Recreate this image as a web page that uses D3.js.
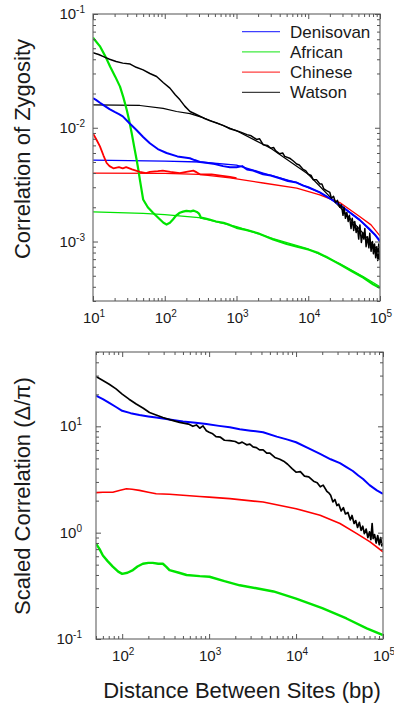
<!DOCTYPE html>
<html><head><meta charset="utf-8">
<script src="https://cdn.jsdelivr.net/npm/d3@7"></script>
<style>
body{margin:0;background:#fff}
svg{display:block}
text{font-family:"Liberation Sans",Arial,sans-serif;fill:#1a1a1a}
</style>
</head><body>
<svg id="chart" width="394" height="705"></svg>
<script>
// ---------- DATA ----------
const seriesNames = ["Denisovan", "African", "Chinese", "Watson"];
const seriesColors = ["#0000ff", "#00e400", "#ff0000", "#000000"];

const topXExponents = ["1", "2", "3", "4", "5"];
const topYExponents = ["-3", "-2", "-1"];
const bottomXExponents = ["2", "3", "4", "5"];
const bottomYExponents = ["-1", "0", "1"];

// Top panel: correlation of zygosity  [distance bp, value]
const denisovanTop = [[10,0.0182],[11,0.0176],[12.5,0.0166],[14,0.0158],[17,0.0146],[20,0.0138],[23,0.0132],[26,0.0126],[32,0.0110],[40,0.0096],[50,0.0083],[62,0.0073],[80,0.0065],[106,0.0060],[150,0.0056],[224,0.0054],[260,0.0052],[310,0.0050],[400,0.0049],[500,0.0048],[650,0.0046],[810,0.0045],[1000,0.0045],[1200,0.0046],[1400,0.0043],[1700,0.0042],[2350,0.0039],[3000,0.0038],[4000,0.0036],[5200,0.0034],[6900,0.0033],[8500,0.0031],[10000,0.0030],[14500,0.0027],[20000,0.0024],[27500,0.0021],[38000,0.0018],[52000,0.00155],[70000,0.0013],[85000,0.00115],[100000,0.0010]];
const denisovanTopFit = [[10,0.0052],[100,0.0051],[310,0.0050],[1000,0.0047],[2350,0.0040],[6900,0.0033],[14500,0.0027],[27500,0.0021],[52000,0.00155],[100000,0.00103]];

const africanTop = [[10,0.062],[12.6,0.0516],[15,0.042],[17.3,0.0345],[20.5,0.028],[23.8,0.023],[26.5,0.0185],[29.5,0.0144],[32,0.0115],[34.6,0.009],[37.5,0.0068],[40.6,0.0052],[42.8,0.0043],[45,0.0035],[50,0.00234],[58,0.0020],[68.6,0.00179],[86,0.00156],[96,0.00146],[106,0.00141],[118,0.00146],[130,0.00156],[145,0.0017],[162,0.00179],[180,0.00183],[200,0.00186],[230,0.00184],[250,0.00187],[280,0.00182],[300,0.00176],[320,0.00162],[360,0.0016],[420,0.00156],[520,0.0015],[660,0.00146],[800,0.0014],[1000,0.00132],[1400,0.00126],[2000,0.00118],[3240,0.00104],[5000,0.00095],[7000,0.0009],[10000,0.00085],[14000,0.00079],[18000,0.00073],[27500,0.00063],[40000,0.00055],[59000,0.00048],[80000,0.00042],[100000,0.00039]];
const africanTopFit = [[10,0.00182],[50,0.00177],[100,0.00172],[300,0.00162],[1000,0.00135],[3240,0.00106],[10000,0.00086],[27500,0.00064],[59000,0.00049],[100000,0.0004]];

const chineseTop = [[10,0.0089],[11,0.0080],[12.5,0.00685],[14,0.0057],[15.5,0.0049],[17,0.0046],[19.2,0.0044],[23,0.0045],[26,0.0044],[29,0.0045],[35,0.0043],[45,0.0041],[55,0.0040],[62,0.0041],[80,0.00415],[94,0.0042],[120,0.0041],[162,0.0040],[200,0.0041],[250,0.0042],[280,0.00405],[310,0.0039],[450,0.0039],[600,0.0038],[810,0.0037],[1000,0.0036]];
const chineseTopFit = [[10,0.0040],[100,0.00398],[300,0.0039],[810,0.00363],[2350,0.00327],[6900,0.00295],[14500,0.00257],[27500,0.0022],[52000,0.00166],[75000,0.0014],[100000,0.00112]];

const watsonTop = [[10,0.0457],[12,0.0440],[14,0.0422],[17,0.0400],[21,0.0382],[26,0.0370],[33,0.0363],[40,0.0340],[50,0.0323],[62,0.0300],[77,0.0282],[95,0.0250],[118,0.0223],[140,0.0195],[163,0.0176],[190,0.0155],[225,0.0139],[280,0.0130],[345,0.0122],[430,0.0115],[530,0.0110],[650,0.0105],[810,0.0098],[1000,0.0094],[1120,0.0092],[1400,0.0087],[1600,0.0085],[1900,0.0079],[2100,0.0080],[2350,0.0071],[2700,0.0070],[3000,0.0066],[3300,0.0067],[3500,0.0063],[4000,0.0059],[4400,0.0060],[4700,0.0056],[5500,0.0054],[6200,0.0051],[6900,0.0048],[7500,0.0047],[8500,0.0043],[9200,0.0042],[10000,0.0039],[11000,0.0038],[11700,0.0035],[13000,0.0035],[14500,0.0032],[15500,0.0032],[16500,0.0029],[18000,0.0028],[20000,0.0027],[21000,0.0024],[22500,0.0025],[24000,0.0022],[25500,0.0023],[27500,0.0020],[29000,0.0021],[30500,0.0017],[31500,0.0020],[33000,0.0016],[34500,0.0018],[36000,0.0015],[37500,0.0017],[39500,0.0013],[41000,0.0016],[43000,0.00125],[44500,0.0015],[46500,0.0012],[48500,0.00135],[50500,0.00105],[52500,0.0014],[55000,0.00098],[57500,0.0012],[59500,0.00105],[61500,0.0013],[64000,0.0009],[67000,0.0011],[70000,0.00088],[72000,0.00118],[75000,0.00082],[78500,0.001],[81000,0.00078],[84000,0.00095],[87000,0.00072],[90000,0.0009],[93000,0.00068],[96000,0.00095],[98000,0.0007],[100000,0.00082]];
const watsonTopFit = [[10,0.0159],[45,0.0157],[95,0.0148],[146,0.0139],[225,0.0133],[350,0.0122],[1000,0.0094],[3000,0.0066],[10000,0.0039],[30000,0.0019],[100000,0.0008]];

// Bottom panel: scaled correlation (Delta/pi)
const denisovanBottom = [[50,19.4],[60,18.0],[71,16.6],[85,15.2],[100,14.0],[125,13.3],[158,12.8],[200,12.4],[246,12.1],[350,11.6],[500,11.1],[700,10.8],[930,10.5],[1300,10.1],[1730,9.8],[2250,9.4],[3000,9.1],[4180,8.8],[6000,8.0],[8000,7.5],[10000,7.08],[14000,6.2],[18900,5.5],[25000,4.9],[32000,4.5],[38000,4.13],[45000,3.8],[52000,3.45],[59000,3.2],[70000,2.8],[85000,2.5],[100000,2.32]];
const africanBottom = [[50,0.79],[55,0.70],[60,0.61],[68,0.54],[78,0.48],[90,0.43],[100,0.41],[115,0.42],[133,0.445],[150,0.48],[173,0.51],[200,0.52],[225,0.52],[260,0.51],[294,0.51],[320,0.48],[350,0.445],[450,0.42],[550,0.40],[780,0.39],[1010,0.385],[1500,0.35],[2250,0.32],[3500,0.30],[5500,0.28],[10000,0.24],[20000,0.195],[38000,0.156],[65000,0.126],[100000,0.109]];
const chineseBottom = [[50,2.38],[60,2.40],[78,2.40],[95,2.50],[112,2.59],[130,2.56],[158,2.50],[200,2.40],[246,2.32],[350,2.30],[500,2.25],[780,2.19],[1000,2.16],[1730,2.09],[4180,1.94],[10000,1.68],[18900,1.46],[32000,1.22],[50000,0.98],[71000,0.82],[100000,0.66]];
const watsonBottom = [[50,29.4],[60,27.0],[71,24.9],[85,22.5],[100,20.1],[120,18.0],[145,16.2],[175,14.8],[206,13.5],[250,12.7],[294,12.1],[360,11.5],[458,10.9],[580,10.5],[650,10.0],[715,10.3],[780,9.6],[850,10.1],[930,9.1],[1000,8.8],[1100,8.5],[1200,8.0],[1350,7.9],[1500,7.4],[1730,7.35],[2000,7.2],[2200,6.9],[2400,7.1],[2700,6.7],[2940,6.8],[3200,6.4],[3500,6.3],[3800,6.0],[4180,6.0],[4600,5.6],[5000,5.6],[5700,5.1],[6500,4.9],[7200,4.7],[8000,4.4],[9000,4.0],[10000,3.7],[11200,3.75],[12500,3.4],[14000,3.35],[15900,3.05],[17500,2.95],[19000,2.7],[20500,2.8],[22600,2.45],[24000,2.35],[25000,2.25],[26500,1.95],[28000,2.05],[29500,1.8],[31000,1.85],[33000,1.6],[35000,1.72],[37000,1.5],[39500,1.55],[42000,1.32],[44000,1.45],[46500,1.22],[48500,1.3],[51000,1.12],[53500,1.25],[56000,1.05],[58500,1.15],[61000,0.98],[64000,1.08],[67000,0.9],[70000,1.02],[72500,0.86],[75000,1.22],[77000,0.88],[80000,0.96],[83500,0.8],[87000,0.94],[90500,0.77],[94000,0.9],[97000,0.75],[100000,0.8]];

// ---------- DRAWING ----------
const svg = d3.select("#chart");

function logTickValues(domain) {
  const lo = domain[0], hi = domain[1], out = [];
  for (let d = Math.floor(Math.log10(lo)); d <= Math.ceil(Math.log10(hi)); d++) {
    for (let k = 1; k <= 9; k++) {
      const v = k * Math.pow(10, d);
      if (v >= lo * 0.999 && v <= hi * 1.001) out.push({v, major: k === 1});
    }
  }
  return out;
}

function drawPanel(cfg) {
  const g = svg.append("g");
  const x = d3.scaleLog().domain(cfg.xDomain).range([cfg.left, cfg.right]);
  const y = d3.scaleLog().domain(cfg.yDomain).range([cfg.bottom, cfg.top]);
  const clipId = "clip" + cfg.id;
  svg.append("clipPath").attr("id", clipId).append("rect")
    .attr("x", cfg.left).attr("y", cfg.top)
    .attr("width", cfg.right - cfg.left).attr("height", cfg.bottom - cfg.top);

  const line = d3.line().x(d => x(d[0])).y(d => y(d[1]));
  const lines = g.append("g").attr("clip-path", `url(#${clipId})`);
  cfg.series.forEach(s => {
    lines.append("path").datum(s.data)
      .attr("d", line).attr("fill", "none")
      .attr("stroke", s.color).attr("stroke-width", s.width)
      .attr("stroke-linejoin", "round");
  });

  // frame
  g.append("rect").attr("x", cfg.left).attr("y", cfg.top)
    .attr("width", cfg.right - cfg.left).attr("height", cfg.bottom - cfg.top)
    .attr("fill", "none").attr("stroke", "#7a7a7a").attr("stroke-width", 1.3);

  const xt = logTickValues(cfg.xDomain), yt = logTickValues(cfg.yDomain);
  const axes = [
    [d3.axisBottom(x), `translate(0,${cfg.bottom})`, xt],
    [d3.axisTop(x), `translate(0,${cfg.top})`, xt],
    [d3.axisLeft(y), `translate(${cfg.left},0)`, yt],
    [d3.axisRight(y), `translate(${cfg.right},0)`, yt]
  ];
  axes.forEach(([ax, tr, ticks]) => {
    [true, false].forEach(maj => {
      const vals = ticks.filter(t => t.major === maj).map(t => t.v);
      const a = g.append("g").attr("transform", tr)
        .call(ax.tickValues(vals).tickSize(maj ? -5 : -3).tickFormat(""));
      a.select(".domain").remove();
      a.selectAll("line").attr("stroke", "#555").attr("stroke-width", 1);
    });
  });

  // tick labels
  const xMaj = xt.filter(t => t.major).map(t => t.v);
  xMaj.forEach((v, i) => {
    const t = g.append("text").attr("x", x(v) + 1).attr("y", cfg.xLabelY)
      .attr("text-anchor", "middle").attr("font-size", 15);
    t.append("tspan").text("10");
    t.append("tspan").attr("font-size", 10).attr("dy", -6).text(cfg.xExp[i]);
  });
  const yMaj = yt.filter(t => t.major).map(t => t.v);
  yMaj.forEach((v, i) => {
    const t = g.append("text").attr("x", cfg.yLabelX).attr("y", y(v) + 5)
      .attr("text-anchor", "end").attr("font-size", 15);
    t.append("tspan").text("10");
    t.append("tspan").attr("font-size", 10).attr("dy", -6).text(cfg.yExp[i]);
  });

  // axis title
  g.append("text").attr("transform", `translate(29.5,${cfg.titleY}) rotate(-90)`)
    .attr("text-anchor", "middle").attr("font-size", 22).text(cfg.yTitle);
  return {x, y};
}

drawPanel({
  id: "top", left: 93, right: 380, top: 14, bottom: 301,
  xDomain: [10, 100000], yDomain: [0.0003, 0.1],
  xExp: topXExponents, yExp: topYExponents,
  xLabelY: 323, yLabelX: 85, titleY: 149,
  yTitle: "Correlation of Zygosity",
  series: [
    {data: africanTopFit, color: seriesColors[1], width: 1.3},
    {data: chineseTopFit, color: seriesColors[2], width: 1.3},
    {data: denisovanTopFit, color: seriesColors[0], width: 1.3},
    {data: watsonTopFit, color: seriesColors[3], width: 1.2},
    {data: africanTop, color: seriesColors[1], width: 2.2},
    {data: chineseTop, color: seriesColors[2], width: 1.8},
    {data: denisovanTop, color: seriesColors[0], width: 2},
    {data: watsonTop, color: seriesColors[3], width: 1.5}
  ]
});

drawPanel({
  id: "bottom", left: 96, right: 383, top: 352, bottom: 639,
  xDomain: [50, 100000], yDomain: [0.1, 50],
  xExp: bottomXExponents, yExp: bottomYExponents,
  xLabelY: 661, yLabelX: 82, titleY: 496,
  yTitle: "Scaled Correlation (\u0394/\u03c0)",
  series: [
    {data: africanBottom, color: seriesColors[1], width: 2.4},
    {data: chineseBottom, color: seriesColors[2], width: 1.6},
    {data: denisovanBottom, color: seriesColors[0], width: 2},
    {data: watsonBottom, color: seriesColors[3], width: 1.7}
  ]
});

// x title
svg.append("text").attr("x", 242).attr("y", 698).attr("text-anchor", "middle")
  .attr("font-size", 22).text("Distance Between Sites (bp)");

// legend
const legend = svg.append("g");
seriesNames.forEach((name, i) => {
  const yy = 31.7 + i * 20.2;
  legend.append("line").attr("x1", 242).attr("x2", 280).attr("y1", yy).attr("y2", yy)
    .attr("stroke", seriesColors[i]).attr("stroke-width", 1.2).attr("opacity", 0.75);
  legend.append("text").attr("x", 290).attr("y", yy + 6).attr("font-size", 17).text(name);
});
</script>
</body></html>
